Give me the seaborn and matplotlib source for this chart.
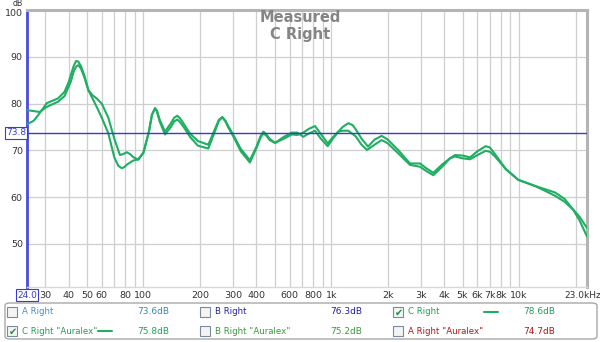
import numpy as np
import pandas as pd
import matplotlib
matplotlib.use("Agg")
import matplotlib.pyplot as plt
import matplotlib.transforms as mtransforms
from matplotlib.patches import Rectangle, FancyBboxPatch
from matplotlib.lines import Line2D
import seaborn as sns

# ---- data ----
freq_a = [24, 26, 28, 30.6, 35.1, 38, 41, 42.5, 43.8, 45, 46.5, 48.5, 50.9, 53.5, 56.4, 60, 65, 70,
          75, 78, 81.5, 85, 88, 93.9, 100, 107, 111, 115.3, 118, 122, 130.3, 140, 146, 151.5, 157,
          165, 177, 195, 221.6, 240, 252, 263, 274, 282, 301, 330, 369, 400, 420, 435, 450, 470, 502,
          560, 616, 660, 710, 760, 820, 880, 958, 1020, 1091, 1150, 1232, 1350, 1450, 1550, 1700,
          1856, 2000, 2268, 2626, 2969, 3200, 3494, 3900, 4289, 4560, 5000, 5481, 6000, 6643, 7000,
          7445, 8500, 9907, 12160, 14000, 15540, 17500, 19440, 21000, 23000]
db_a = [78.6, 78.4, 78.2, 79.3, 80.4, 81.6, 84.6, 86.8, 87.9, 88.2, 87.5, 85.6, 82.9, 81.8, 81.1,
        80.0, 77.0, 72.5, 69.0, 69.2, 69.6, 69.2, 68.6, 68.0, 69.5, 74.0, 77.6, 79.0, 78.5, 76.6,
        74.0, 75.8, 77.0, 77.4, 76.8, 75.5, 73.6, 72.0, 71.2, 74.5, 76.5, 77.1, 76.3, 75.3, 73.3,
        70.3, 67.9, 70.8, 73.0, 74.0, 73.5, 72.5, 71.6, 72.9, 73.8, 73.8, 72.9, 73.6, 74.2, 72.5,
        70.9, 72.5, 74.0, 74.2, 74.2, 73.0, 71.2, 70.1, 71.2, 72.2, 71.5, 69.4, 66.9, 66.5, 65.6,
        64.7, 66.5, 68.3, 68.7, 68.3, 68.1, 69.0, 69.9, 69.7, 68.7, 66.0, 63.7, 62.4, 61.2, 60.3,
        59.0, 57.3, 55.0, 51.6]

freq_b = [24, 26, 27.5, 30.6, 35.1, 38, 40, 42.5, 43.8, 45, 46.5, 48.5, 50.9, 56.4, 60, 65, 70,
          73.5, 76.6, 79, 82, 88, 93.9, 100, 107, 111, 115.3, 118, 122, 130.3, 140, 146, 151.5, 157,
          165, 177, 195, 221.6, 240, 252, 263, 274, 282, 301, 330, 369, 400, 420, 435, 450, 470, 502,
          560, 616, 660, 710, 760, 820, 880, 958, 1020, 1091, 1150, 1232, 1300, 1350, 1450, 1570,
          1700, 1856, 2000, 2268, 2626, 2969, 3200, 3494, 3900, 4289, 4560, 5000, 5481, 6000, 6643,
          7000, 7445, 8500, 9907, 12160, 14000, 15540, 17500, 19440, 21000, 23000]
db_b = [75.6, 76.3, 77.5, 80.1, 81.1, 82.5, 84.6, 88.0, 89.1, 89.0, 88.0, 86.0, 82.9, 79.3, 77.0,
        73.7, 68.5, 66.7, 66.2, 66.4, 67.0, 67.8, 68.1, 69.5, 74.0, 77.6, 79.0, 78.3, 76.2, 73.4,
        75.0, 76.2, 76.6, 76.0, 74.8, 72.9, 71.0, 70.4, 74.0, 76.3, 77.1, 76.1, 75.0, 73.0, 69.8,
        67.4, 70.5, 72.7, 73.6, 73.2, 72.2, 71.6, 72.5, 73.4, 73.3, 73.8, 74.6, 75.2, 73.5, 71.5,
        72.8, 74.0, 75.0, 75.8, 75.4, 74.5, 72.5, 70.8, 72.3, 73.1, 72.3, 70.1, 67.2, 67.2, 66.2,
        65.2, 67.0, 68.3, 69.0, 68.9, 68.5, 69.8, 70.9, 70.6, 69.2, 66.0, 63.7, 62.4, 61.6, 61.0,
        59.6, 57.3, 55.8, 53.4]

series_names = ['C Right "Auralex"', 'C Right']
ref_level = 73.8
y_ticks = [50, 60, 70, 80, 90, 100]
grid_freqs = [30, 40, 50, 60, 70, 80, 90, 100, 200, 300, 400, 500, 600, 700, 800, 900,
              1000, 2000, 3000, 4000, 5000, 6000, 7000, 8000, 9000, 10000, 20000]
tick_labels = {30: "30", 40: "40", 50: "50", 60: "60", 80: "80", 100: "100", 200: "200",
               300: "300", 400: "400", 600: "600", 800: "800", 1000: "1k", 2000: "2k",
               3000: "3k", 4000: "4k", 5000: "5k", 6000: "6k", 7000: "7k", 8000: "8k",
               10000: "10k"}
legend_rows = [
    [("A Right", False, "73.6dB", "#4a8cc4", "#3a8aa8"),
     ("B Right", False, "76.3dB", "#22229a", "#22229a"),
     ("C Right", True, "78.6dB", "#22a055", "#22a055")],
    [('C Right "Auralex"', True, "75.8dB", "#22a055", "#22a055"),
     ('B Right "Auralex"', False, "75.2dB", "#3a9a3a", "#3a9a3a"),
     ('A Right "Auralex"', False, "74.7dB", "#b01818", "#b01818")],
]

# ---- build figure ----
sns.set_style("white")
plt.rcParams['font.family'] = ['DejaVu Sans']

fig = plt.figure(figsize=(6.0, 3.42), dpi=100)
ax = fig.add_axes([27 / 600, 1 - 287 / 342, 560 / 600, 277 / 342])

df = pd.concat([
    pd.DataFrame({"freq": freq_b, "dB": db_b, "series": series_names[0]}),
    pd.DataFrame({"freq": freq_a, "dB": db_a, "series": series_names[1]}),
])
green = "#1fae62"
sns.lineplot(data=df, x="freq", y="dB", hue="series", palette=[green, green],
             linewidth=1.5, legend=False, ax=ax, sort=False, zorder=3)
for ln in ax.get_lines():
    ln.set_solid_joinstyle("round")

ax.set_xscale("log")
ax.set_xlim(24, 23000)
ax.set_ylim(40.8, 100)
ax.set_xlabel("")
ax.set_ylabel("")

ax.set_xticks(grid_freqs)
ax.set_xticklabels([tick_labels.get(f, "") for f in grid_freqs])
ax.xaxis.set_minor_locator(matplotlib.ticker.NullLocator())
ax.set_yticks(y_ticks)
ax.set_yticklabels([str(v) for v in y_ticks])
ax.tick_params(axis="both", length=0, labelsize=6.8, colors="#333333", pad=3)
ax.grid(True, color="#cfcfcf", linewidth=0.9, zorder=0)
ax.set_axisbelow(True)

# nudge the top "100" label down slightly so the "dB" unit fits above it
top_lbl = ax.get_yticklabels()[-1]
top_lbl.set_transform(top_lbl.get_transform() +
                      mtransforms.ScaledTranslation(0, -2 / 100, fig.dpi_scale_trans))

ax.axhline(ref_level, color="#3a3acf", linewidth=1.0, zorder=4)

for side in ["top", "right"]:
    ax.spines[side].set_color("#b4b4b4")
    ax.spines[side].set_linewidth(2.2)
ax.spines["bottom"].set_color("#d8d8d8")
ax.spines["bottom"].set_linewidth(1.0)
ax.spines["left"].set_color("#4a4ae0")
ax.spines["left"].set_linewidth(2.0)

# axis decorations
fig.text(18 / 600, 1 - 4 / 342, "dB", fontsize=5.6, color="#333333", ha="center", va="center")
fig.text(16 / 600, 1 - 133 / 342, f"{ref_level:.1f}", fontsize=6.5, color="#3a3acf",
         ha="center", va="center",
         bbox=dict(boxstyle="square,pad=0.15", fc="white", ec="#3a3acf", lw=0.8))
fig.text(27 / 600, 1 - 295 / 342, "24.0", fontsize=6.5, color="#3a3acf", ha="center", va="center",
         bbox=dict(boxstyle="square,pad=0.15", fc="white", ec="#3a3acf", lw=0.8))
fig.text(583 / 600, 1 - 295 / 342, "23.0kHz", fontsize=6.5, color="#333333", ha="center", va="center")

# title
fig.text(0.5, 1 - 18 / 342, "Measured", fontsize=10.5, fontweight="bold", color="#858585",
         ha="center", va="center")
fig.text(0.5, 1 - 35 / 342, series_names[1], fontsize=10.5, fontweight="bold", color="#858585",
         ha="center", va="center")

# legend panel
box = FancyBboxPatch((5 / 600, 1 - 339 / 342), 592 / 600, 36 / 342,
                     boxstyle="round,pad=0,rounding_size=0.008", transform=fig.transFigure,
                     fc="white", ec="#a8a8a8", lw=1.0)
fig.add_artist(box)

col_box_x = [7, 200, 393]
col_val_x = [153, 346, 539]
col_dash_x = [98, 291, 484]
row_y = [312, 331]
for r, row in enumerate(legend_rows):
    for c, (name, checked, val, tcol, vcol) in enumerate(row):
        y = row_y[r]
        bx = col_box_x[c]
        rect = Rectangle((bx / 600, 1 - (y + 5) / 342), 10 / 600, 10 / 342,
                         transform=fig.transFigure, fc="#f4f4f4", ec="#7a8a9a", lw=0.8)
        fig.add_artist(rect)
        if checked:
            fig.text((bx + 5.5) / 600, 1 - (y + 0.5) / 342, "\u2714", fontsize=7, color="#1f8f3f",
                     ha="center", va="center")
            fig.add_artist(Line2D([col_dash_x[c] / 600, (col_dash_x[c] + 14) / 600],
                                  [1 - y / 342, 1 - y / 342], transform=fig.transFigure,
                                  color=green, lw=1.5))
        fig.text((bx + 15) / 600, 1 - y / 342, name, fontsize=6.2, color=tcol,
                 ha="left", va="center")
        fig.text(col_val_x[c] / 600, 1 - y / 342, val, fontsize=6.5, color=vcol,
                 ha="center", va="center")

fig.savefig("out.png", dpi=100)
